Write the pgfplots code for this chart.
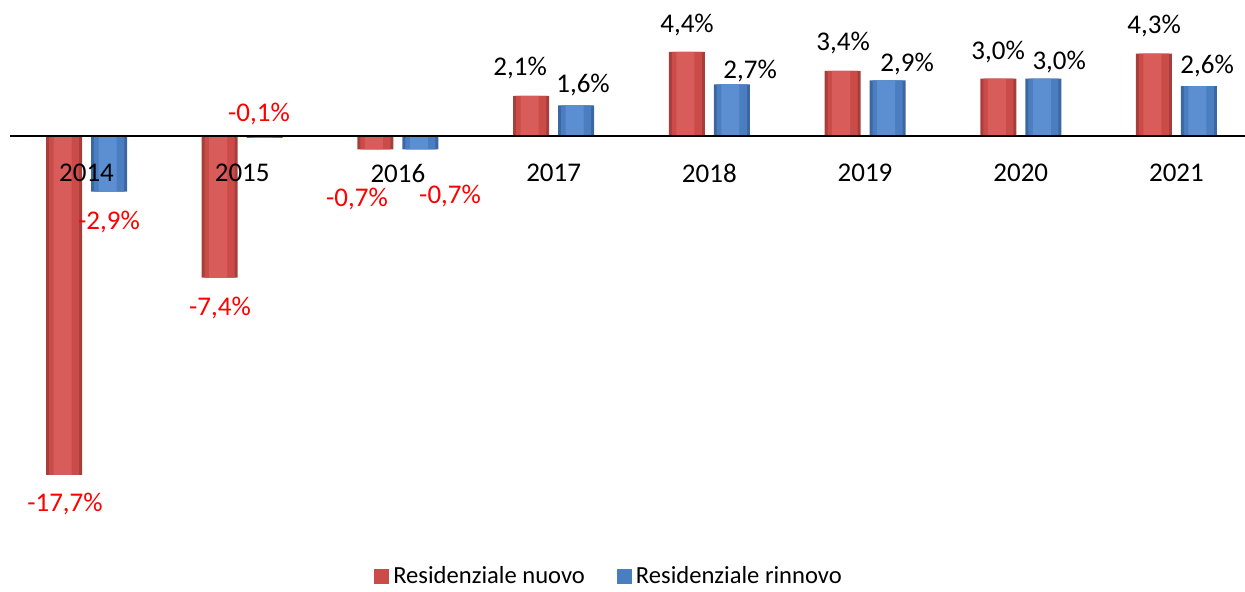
\documentclass[border=0pt]{standalone}
\usepackage{fontspec}
\setmainfont{Carlito}
\usepackage{pgfplots}
\usepackage{pgfplotstable}
\pgfplotsset{compat=1.18}
\definecolor{redE}{HTML}{A83E3C}
\definecolor{redM}{HTML}{CB4B48}
\definecolor{redL}{HTML}{DE6461}
\definecolor{blueE}{HTML}{3C67A2}
\definecolor{blueM}{HTML}{4B7DC1}
\definecolor{blueL}{HTML}{6397D8}
\definecolor{labred}{HTML}{FF0000}
\pgfplotstableread{
x nuovo rinnovo
0 -17.7 -2.9
1 -7.4 -0.1
2 -0.7 -0.7
3 2.1 1.6
4 4.4 2.7
5 3.4 2.9
6 3.0 3.0
7 4.3 2.6
}\datatab
\begin{document}
\begin{tikzpicture}
\begin{axis}[
  scale only axis,
  width=622.5pt, height=296pt,
  xmin=-0.5556, xmax=7.4403,
  ymin=-23.82, ymax=7.105,
  clip=false,
  axis on top,
  axis x line=middle, axis y line=none,
  x axis line style={draw=none},
  ytick=\empty,
  xtick={0,...,7},
  xticklabels={2014,2015,2016,2017,2018,2019,2020,2021},
  major tick length=0pt,
  xticklabel style={anchor=center, yshift=-18.5pt, font=\fontsize{13.5}{16}\selectfont},
  legend style={draw=none, fill=none, at={(0.49,0.026)}, anchor=center,
    legend columns=2, font=\fontsize{12.3}{15}\selectfont,
    /tikz/every even column/.append style={column sep=14pt}},
  legend cell align=left,
]
% red series
\addplot[ybar, bar width=18pt, bar shift=-11.25pt, fill=redE, draw=none,
  legend image code/.code={\fill[redM] (0pt,-3.75pt) rectangle (7.5pt,3.75pt);}]
  table[x=x, y=nuovo]{\datatab};
\addlegendentry{Residenziale nuovo}
% blue series
\addplot[ybar, bar width=18pt, bar shift=11.25pt, fill=blueE, draw=none,
  legend image code/.code={\fill[blueM] (0pt,-3.75pt) rectangle (7.5pt,3.75pt);}]
  table[x=x, y=rinnovo]{\datatab};
\addlegendentry{Residenziale rinnovo}
% shading layers
\addplot[forget plot, ybar, bar width=15pt, bar shift=-11.25pt, fill=redM, draw=none] table[x=x, y=nuovo]{\datatab};
\addplot[forget plot, ybar, bar width=9pt, bar shift=-12pt, fill=redL, fill opacity=0.7, draw=none] table[x=x, y=nuovo]{\datatab};
\addplot[forget plot, ybar, bar width=15pt, bar shift=11.25pt, fill=blueM, draw=none] table[x=x, y=rinnovo]{\datatab};
\addplot[forget plot, ybar, bar width=9pt, bar shift=10.5pt, fill=blueL, fill opacity=0.7, draw=none] table[x=x, y=rinnovo]{\datatab};
\draw[black, line width=1.2pt] (axis cs:-0.491,0) -- (axis cs:7.4403,0);
\begin{scope}[every node/.style={font=\fontsize{13.5}{16}\selectfont, inner sep=0pt}]
\node[labred] at (axis cs:-0.138,-19.23) {-17,7\%};
\node[labred] at (axis cs:0.1445,-4.49) {-2,9\%};
\node[labred] at (axis cs:0.8575,-8.99) {-7,4\%};
\node[labred] at (axis cs:1.108,1.149) {-0,1\%};
\node[labred] at (axis cs:1.7375,-3.29) {-0,7\%};
\node[labred] at (axis cs:2.335,-3.13) {-0,7\%};
\node at (axis cs:2.785,3.553) {2,1\%};
\node at (axis cs:3.189,2.665) {1,6\%};
\node at (axis cs:3.857,5.80) {4,4\%};
\node at (axis cs:4.262,3.40) {2,7\%};
\node at (axis cs:4.859,4.86) {3,4\%};
\node at (axis cs:5.270,3.76) {2,9\%};
\node at (axis cs:5.855,4.389) {3,0\%};
\node at (axis cs:6.247,3.866) {3,0\%};
\node at (axis cs:6.857,5.747) {4,3\%};
\node at (axis cs:7.197,3.657) {2,6\%};
\end{scope}
\end{axis}
\pgfresetboundingbox
\path[use as bounding box] (current axis.south west) rectangle (current axis.north east);
\end{tikzpicture}
\end{document}
